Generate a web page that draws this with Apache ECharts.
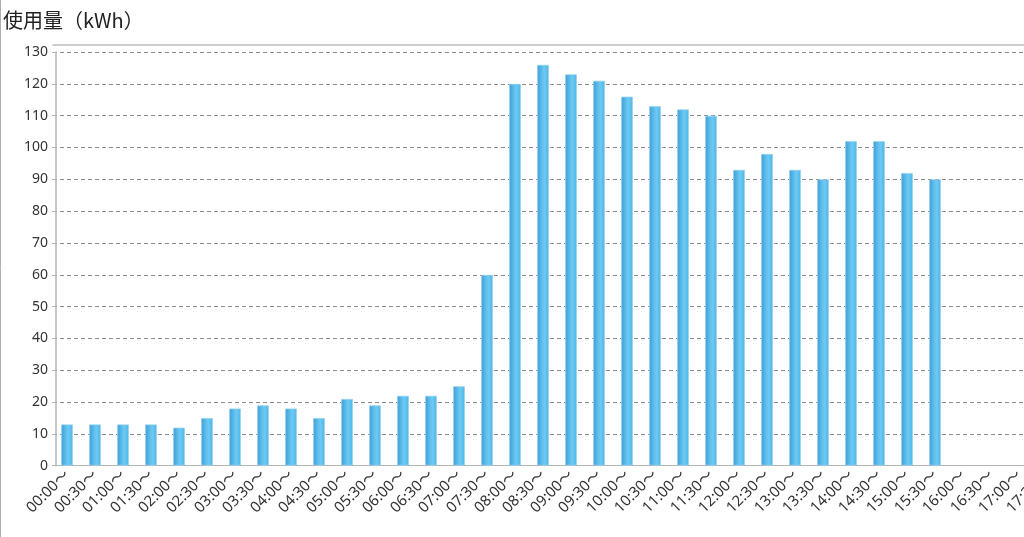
<!DOCTYPE html>
<html>
<head>
<meta charset="utf-8">
<script src="https://cdn.jsdelivr.net/npm/echarts@6/dist/echarts.min.js"></script>
<style>
html,body{margin:0;padding:0;background:#fff;}
#c{width:1024px;height:537px;}
</style>
</head>
<body>
<div id="c"></div>
<script>
const titleText = '使用量（kWh）';
const categories = [
  '00:00〜','00:30〜','01:00〜','01:30〜','02:00〜','02:30〜','03:00〜','03:30〜',
  '04:00〜','04:30〜','05:00〜','05:30〜','06:00〜','06:30〜','07:00〜','07:30〜',
  '08:00〜','08:30〜','09:00〜','09:30〜','10:00〜','10:30〜','11:00〜','11:30〜',
  '12:00〜','12:30〜','13:00〜','13:30〜','14:00〜','14:30〜','15:00〜','15:30〜',
  '16:00〜','16:30〜','17:00〜','17:30〜','18:00〜','18:30〜','19:00〜','19:30〜',
  '20:00〜','20:30〜','21:00〜','21:30〜','22:00〜','22:30〜','23:00〜','23:30〜'
];
const usage = [
  13, 13, 13, 13, 12, 15, 18, 19,
  18, 15, 21, 19, 22, 22, 25, 60,
  120, 126, 123, 121, 116, 113, 112, 110,
  93, 98, 93, 90, 102, 102, 92, 90
];
const yMin = 0, yMax = 130, yInterval = 10;

const chart = echarts.init(document.getElementById('c'), null, {renderer: 'canvas'});
chart.setOption({
  animation: false,
  backgroundColor: '#fff',
  title: {
    text: titleText,
    left: -2, top: 5,
    textStyle: {fontFamily: 'Noto Sans CJK JP', fontSize: 20, fontWeight: 'normal', color: '#222'}
  },
  graphic: [{
    type: 'line', shape: {x1: 0.5, y1: 0, x2: 0.5, y2: 537},
    style: {stroke: '#b0b0b0', lineWidth: 1}
  }],
  grid: {left: 53, top: 52, height: 413.7, width: 28 * categories.length, containLabel: false, outerBoundsMode: 'none'},
  xAxis: [{
    type: 'category',
    data: categories,
    boundaryGap: true,
    axisLine: {lineStyle: {color: '#b5b5b5', width: 1}},
    axisTick: {alignWithLabel: true, length: 4, lineStyle: {color: '#b5b5b5'}},
    axisLabel: {
      interval: 0, rotate: 45, margin: 7,
      fontFamily: 'Noto Sans, Noto Sans CJK JP', fontSize: 15, color: '#333'
    }
  }, {
    type: 'category',
    position: 'top',
    offset: 7,
    data: categories,
    axisLine: {lineStyle: {color: '#c0c0c0', width: 1.5}},
    axisTick: {show: false},
    axisLabel: {show: false}
  }],
  yAxis: {
    type: 'value',
    min: yMin, max: yMax, interval: yInterval,
    offset: -3,
    axisLine: {show: true, lineStyle: {color: '#b5b5b5', width: 1.5}},
    axisTick: {show: true, length: 4, lineStyle: {color: '#b5b5b5'}},
    axisLabel: {margin: 8, fontFamily: 'Noto Sans', fontSize: 14, color: '#333'},
    splitLine: {show: true, lineStyle: {color: '#8c8c8c', type: [4, 3], width: 1}}
  },
  series: [{
    type: 'bar',
    data: usage,
    barWidth: 12,
    xAxisIndex: 0,
    itemStyle: {
      color: new echarts.graphic.LinearGradient(0, 0, 1, 0, [
        {offset: 0, color: '#3f9dd6'},
        {offset: 0.6, color: '#6ccbf3'},
        {offset: 1, color: '#52b3e6'}
      ]),
      borderColor: 'rgba(150,210,240,0.7)',
      borderWidth: 1
    }
  }]
});
</script>
</body>
</html>
